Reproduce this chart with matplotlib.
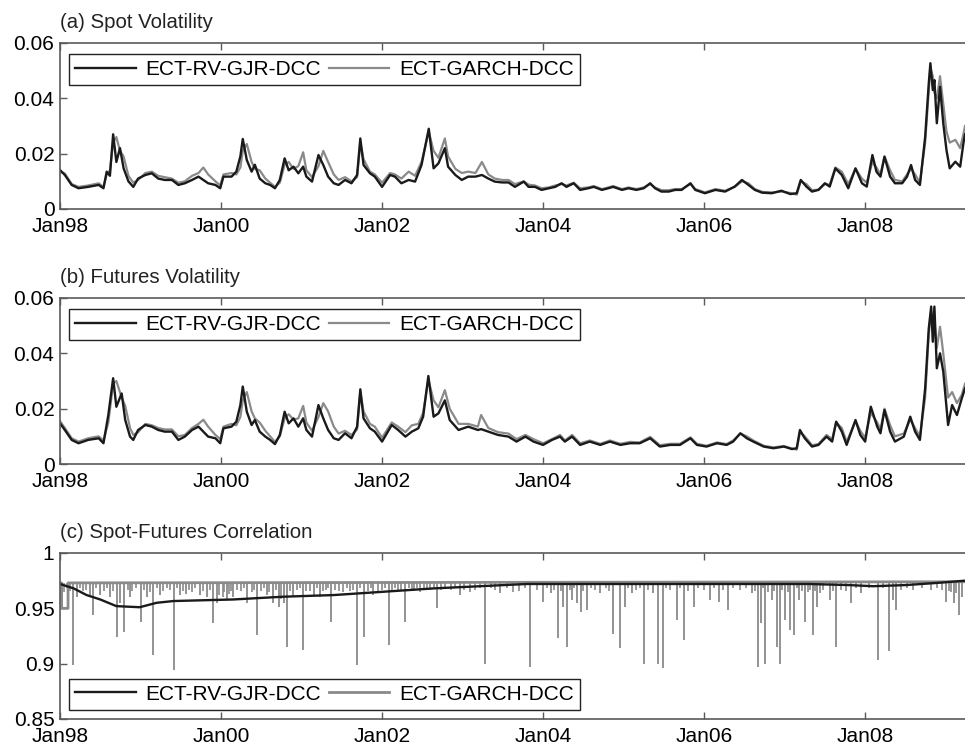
import numpy as np
import matplotlib
matplotlib.use("Agg")
import matplotlib.pyplot as plt

plt.rcParams['font.family'] = ['Liberation Sans', 'DejaVu Sans']

# ---------------- data ----------------
xticks = [1998, 2000, 2002, 2004, 2006, 2008]
xticklabels = ['Jan98', 'Jan00', 'Jan02', 'Jan04', 'Jan06', 'Jan08']
series_names = ['ECT-RV-GJR-DCC', 'ECT-GARCH-DCC']
titles = ['(a) Spot Volatility', '(b) Futures Volatility', '(c) Spot-Futures Correlation']

# (a) spot volatility, values in units of 0.001
spot_rv_t = [1998.00, 1998.06, 1998.145, 1998.23, 1998.35, 1998.48, 1998.54, 1998.58, 1998.62, 1998.66,
             1998.70, 1998.745, 1998.79, 1998.85, 1998.91, 1998.97, 1999.06, 1999.14, 1999.22, 1999.30,
             1999.39, 1999.47, 1999.55, 1999.64, 1999.72, 1999.78, 1999.84, 1999.93, 1999.99, 2000.03,
             2000.13, 2000.19, 2000.24, 2000.27, 2000.32, 2000.38, 2000.42, 2000.48, 2000.55, 2000.61,
             2000.67, 2000.73, 2000.79, 2000.84, 2000.90, 2000.96, 2001.02, 2001.06, 2001.13, 2001.21,
             2001.27, 2001.33, 2001.40, 2001.46, 2001.54, 2001.62, 2001.69, 2001.73, 2001.77, 2001.85,
             2001.91, 2002.00, 2002.10, 2002.16, 2002.24, 2002.33, 2002.41, 2002.49, 2002.58, 2002.64,
             2002.70, 2002.78, 2002.82, 2002.91, 2002.99, 2003.07, 2003.16, 2003.24, 2003.32, 2003.40,
             2003.49, 2003.57, 2003.65, 2003.76, 2003.82, 2003.90, 2003.98, 2004.07, 2004.15, 2004.23,
             2004.29, 2004.38, 2004.46, 2004.56, 2004.63, 2004.73, 2004.81, 2004.87, 2004.98, 2005.06,
             2005.16, 2005.25, 2005.33, 2005.39, 2005.47, 2005.56, 2005.64, 2005.72, 2005.83, 2005.89,
             2006.01, 2006.14, 2006.26, 2006.38, 2006.47, 2006.55, 2006.63, 2006.72, 2006.84, 2006.96,
             2007.07, 2007.15, 2007.20, 2007.27, 2007.34, 2007.42, 2007.50, 2007.56, 2007.63, 2007.71,
             2007.79, 2007.88, 2007.96, 2008.02, 2008.09, 2008.14, 2008.19, 2008.24, 2008.31, 2008.37,
             2008.46, 2008.52, 2008.57, 2008.62, 2008.68, 2008.745, 2008.79, 2008.81, 2008.84, 2008.86,
             2008.89, 2008.93, 2008.97, 2009.01, 2009.05, 2009.12, 2009.18, 2009.22, 2009.24]
spot_rv = [14.1, 12.3, 8.7, 7.5, 8.0, 8.7, 7.5, 13.5, 12.0, 27.0,
           17.0, 22.0, 14.7, 10.0, 8.0, 11.0, 12.3, 12.9, 11.0, 10.5,
           10.5, 8.7, 9.3, 10.5, 11.7, 10.5, 9.3, 8.7, 7.5, 11.7,
           11.7, 13.5, 19.0, 25.3, 17.7, 13.5, 16.0, 11.0, 9.3, 8.7,
           7.5, 10.5, 18.3, 14.0, 15.3, 12.9, 15.3, 11.7, 9.9, 19.5,
           15.9, 11.7, 9.3, 8.7, 10.5, 9.3, 12.3, 25.5, 15.9, 12.9,
           11.7, 8.0, 12.3, 11.7, 9.3, 10.5, 9.9, 15.9, 29.0, 14.7,
           16.5, 22.0, 15.3, 12.3, 10.5, 11.7, 11.7, 12.3, 11.0, 9.9,
           9.6, 9.6, 8.0, 9.9, 8.0, 8.0, 6.9, 7.5, 8.0, 9.3,
           8.0, 9.3, 6.9, 7.5, 8.0, 6.9, 7.5, 8.0, 6.9, 7.5,
           6.9, 7.5, 9.3, 7.5, 6.3, 6.3, 6.9, 6.9, 9.3, 6.9,
           5.7, 6.9, 6.3, 8.1, 10.5, 8.7, 6.9, 5.9, 5.7, 6.6,
           5.4, 5.7, 10.5, 8.1, 6.3, 6.9, 9.3, 8.1, 14.7, 12.3,
           7.5, 14.7, 9.3, 8.1, 19.5, 13.5, 11.7, 18.9, 11.7, 9.3,
           9.3, 11.7, 15.9, 10.5, 8.7, 26.0, 45.4, 52.7, 43.0, 46.6,
           31.0, 44.2, 31.0, 21.3, 14.7, 17.1, 15.3, 23.7, 27.0]
spot_garch = [13.5, 12.8, 9.0, 8.0, 8.5, 9.3, 8.0, 12.5, 14.0, 24.0,
              26.0, 21.0, 19.0, 12.0, 9.5, 10.5, 13.0, 13.5, 12.0, 11.5,
              11.0, 9.5, 10.0, 12.0, 13.0, 15.0, 12.5, 10.0, 8.5, 12.5,
              13.0, 12.5, 15.0, 21.0, 23.5, 17.0, 14.5, 14.0, 11.0, 9.5,
              8.0, 9.5, 16.0, 17.0, 14.5, 15.5, 20.5, 14.0, 11.5, 15.5,
              21.0, 17.0, 12.5, 10.5, 11.5, 10.0, 11.5, 24.0, 18.0, 13.5,
              12.5, 9.5, 13.0, 12.5, 11.0, 13.5, 12.0, 17.0, 28.0, 21.0,
              18.5, 25.5, 19.0, 14.5, 13.0, 13.5, 13.0, 17.0, 12.5, 11.0,
              10.5, 10.5, 9.0, 10.0, 8.8, 8.5, 7.5, 7.8, 8.5, 9.0,
              8.5, 9.5, 7.5, 7.8, 8.3, 7.2, 7.8, 8.3, 7.2, 7.8,
              7.2, 7.8, 9.0, 7.8, 6.8, 6.8, 7.2, 7.2, 9.0, 7.2,
              6.0, 7.2, 6.6, 8.0, 10.0, 9.3, 7.2, 6.2, 6.0, 6.3,
              5.8, 5.2, 10.0, 9.0, 6.8, 7.0, 9.0, 8.8, 15.0, 13.5,
              9.0, 14.5, 11.0, 9.5, 17.0, 15.0, 12.5, 19.0, 14.0, 10.5,
              10.0, 12.5, 14.5, 12.5, 9.5, 24.0, 43.0, 51.0, 48.0, 42.0,
              40.0, 48.0, 38.0, 28.0, 24.0, 25.0, 22.0, 27.0, 30.0]

# (b) futures volatility, values in units of 0.001
fut_t = [1998.00, 1998.06, 1998.145, 1998.23, 1998.35, 1998.48, 1998.54, 1998.60, 1998.66, 1998.70,
         1998.766, 1998.81, 1998.87, 1998.91, 1998.97, 1999.06, 1999.14, 1999.22, 1999.30, 1999.39,
         1999.47, 1999.55, 1999.64, 1999.72, 1999.78, 1999.84, 1999.93, 1999.99, 2000.03, 2000.13,
         2000.19, 2000.24, 2000.27, 2000.32, 2000.38, 2000.42, 2000.48, 2000.55, 2000.61, 2000.67,
         2000.73, 2000.79, 2000.84, 2000.90, 2000.96, 2001.02, 2001.06, 2001.13, 2001.21, 2001.27,
         2001.33, 2001.40, 2001.46, 2001.54, 2001.62, 2001.69, 2001.73, 2001.77, 2001.85, 2001.91,
         2002.00, 2002.12, 2002.20, 2002.29, 2002.37, 2002.45, 2002.51, 2002.575, 2002.64, 2002.70,
         2002.78, 2002.84, 2002.95, 2003.07, 2003.19, 2003.23, 2003.32, 2003.44, 2003.57, 2003.67,
         2003.78, 2003.88, 2004.00, 2004.11, 2004.21, 2004.27, 2004.36, 2004.46, 2004.58, 2004.71,
         2004.83, 2004.96, 2005.08, 2005.20, 2005.33, 2005.45, 2005.58, 2005.70, 2005.83, 2005.91,
         2006.03, 2006.16, 2006.28, 2006.36, 2006.45, 2006.53, 2006.61, 2006.74, 2006.86, 2006.99,
         2007.09, 2007.15, 2007.19, 2007.25, 2007.34, 2007.42, 2007.52, 2007.59, 2007.64, 2007.71,
         2007.77, 2007.88, 2007.94, 2008.00, 2008.07, 2008.15, 2008.19, 2008.24, 2008.31, 2008.37,
         2008.48, 2008.56, 2008.62, 2008.68, 2008.745, 2008.79, 2008.82, 2008.84, 2008.86, 2008.89,
         2008.93, 2008.97, 2009.03, 2009.08, 2009.14, 2009.20, 2009.24]
fut_rv = [14.7, 12.3, 8.7, 7.5, 8.7, 9.3, 7.5, 17.7, 31.0, 20.7,
          25.5, 15.9, 9.9, 8.7, 12.3, 14.1, 13.5, 12.3, 11.7, 11.7,
          8.7, 9.9, 12.3, 13.5, 11.7, 9.9, 9.3, 7.5, 12.9, 13.5,
          15.3, 21.3, 28.0, 18.9, 14.1, 15.9, 11.7, 9.9, 8.7, 7.2,
          10.5, 18.9, 14.7, 16.5, 13.5, 16.5, 12.3, 9.9, 21.3, 16.5,
          12.3, 9.3, 8.7, 11.1, 9.3, 13.5, 27.0, 16.5, 12.9, 11.7,
          8.1, 14.1, 12.3, 9.9, 11.7, 12.9, 17.1, 31.8, 17.1, 18.3,
          23.0, 15.9, 12.3, 13.5, 12.3, 12.6, 11.7, 10.5, 9.9, 8.1,
          9.9, 8.1, 6.9, 8.7, 9.9, 8.1, 9.9, 6.9, 8.1, 6.9,
          8.1, 6.9, 7.5, 7.5, 9.3, 6.3, 6.9, 6.9, 9.3, 6.9,
          6.3, 7.5, 6.9, 8.1, 11.1, 9.3, 8.1, 6.3, 5.7, 6.3,
          5.4, 5.7, 12.3, 9.3, 6.3, 6.9, 9.9, 8.1, 15.3, 11.7,
          6.9, 15.9, 10.5, 8.1, 20.7, 13.5, 11.1, 19.5, 11.7, 8.1,
          9.9, 17.1, 11.7, 8.7, 27.3, 49.0, 56.9, 44.2, 56.9, 34.6,
          40.0, 33.4, 14.1, 21.3, 17.7, 23.7, 27.3]
fut_garch = [15.5, 13.0, 9.3, 8.1, 9.3, 10.0, 8.5, 15.0, 29.0, 30.0,
             24.0, 21.0, 13.0, 10.5, 11.5, 14.5, 14.0, 13.0, 12.5, 12.5,
             10.0, 10.5, 13.0, 14.5, 16.0, 13.5, 10.5, 9.0, 13.5, 14.5,
             14.0, 17.0, 23.0, 26.0, 19.0, 16.5, 15.0, 12.0, 10.0, 8.0,
             10.0, 16.5, 18.0, 16.0, 16.5, 21.0, 15.0, 12.0, 17.0, 22.0,
             19.0, 13.5, 11.0, 12.0, 10.5, 12.5, 26.0, 19.0, 14.5, 13.5,
             9.5, 15.0, 13.5, 11.5, 14.0, 14.5, 18.5, 30.5, 23.0, 20.5,
             26.7, 20.0, 14.5, 14.5, 13.5, 17.7, 13.0, 11.5, 11.0, 9.0,
             10.5, 9.0, 7.5, 9.0, 10.5, 8.5, 10.5, 7.5, 8.5, 7.3,
             8.5, 7.3, 8.0, 7.8, 9.8, 6.8, 7.3, 7.3, 9.6, 7.3,
             6.6, 7.8, 7.2, 8.5, 11.0, 10.0, 8.5, 6.6, 6.0, 6.5,
             5.6, 5.2, 11.5, 10.0, 6.8, 7.2, 10.5, 9.0, 15.0, 13.0,
             8.0, 15.5, 12.0, 9.5, 18.5, 15.0, 12.5, 20.0, 14.0, 10.0,
             11.0, 16.0, 13.0, 10.0, 24.0, 47.0, 55.0, 50.0, 52.0, 42.0,
             49.6, 40.0, 24.0, 26.0, 22.0, 25.0, 29.0]

# (c) correlation
corr_rv_t = [1998.00, 1998.17, 1998.33, 1998.50, 1998.70, 1998.99, 1999.20, 1999.41, 2000.15, 2000.77,
             2001.40, 2002.02, 2002.64, 2003.22, 2003.80, 2004.50, 2005.50, 2006.50, 2007.30, 2007.80,
             2008.10, 2008.50, 2008.90, 2009.24]
corr_rv = [0.972, 0.968, 0.962, 0.958, 0.952, 0.951, 0.955, 0.9566, 0.958, 0.9605,
           0.962, 0.965, 0.968, 0.970, 0.972, 0.972, 0.972, 0.972, 0.972, 0.971,
           0.970, 0.971, 0.973, 0.975]
corr_garch_base_t = [1998.00, 1998.02, 1998.02, 1998.10, 1998.10, 2009.24]
corr_garch_base = [0.973, 0.973, 0.950, 0.950, 0.973, 0.974]
# deep downward spikes of the GARCH correlation
spike_t = [1998.16, 1998.21, 1998.37, 1998.41, 1998.50, 1998.62, 1998.71, 1998.75,
           1998.80, 1998.87, 1999.01, 1999.08, 1999.16, 1999.24, 1999.41, 1999.49,
           1999.57, 1999.74, 1999.82, 1999.90, 1999.95, 2000.07,
           2000.15, 2000.32, 2000.45, 2000.57, 2000.65, 2000.72, 2000.78,
           2000.82, 2000.90, 2001.02, 2001.15, 2001.23, 2001.37,
           2001.69, 2001.77, 2001.89, 2002.08, 2002.28,
           2002.68, 2002.97, 2003.28, 2003.47,
           2003.84, 2004.00, 2004.10, 2004.18, 2004.25, 2004.30, 2004.36, 2004.42, 2004.47, 2004.55,
           2004.71, 2004.87, 2004.95, 2005.02, 2005.10, 2005.25, 2005.37, 2005.43, 2005.49, 2005.66,
           2005.75, 2005.87, 2006.07, 2006.18, 2006.30, 2006.59, 2006.67, 2006.71, 2006.76, 2006.84,
           2006.90, 2006.94, 2007.01, 2007.07, 2007.12, 2007.18, 2007.25, 2007.35, 2007.40, 2007.56,
           2007.64, 2007.83, 2007.95, 2008.16, 2008.29, 2008.35, 2008.38, 2009.01,
           2009.10, 2009.16, 2009.20]
spike_v = [0.899, 0.960, 0.962, 0.944, 0.962, 0.960, 0.924, 0.955,
           0.929, 0.960, 0.938, 0.960, 0.908, 0.962, 0.894, 0.962,
           0.963, 0.962, 0.960, 0.937, 0.955, 0.958,
           0.960, 0.955, 0.926, 0.962, 0.955, 0.9515, 0.955,
           0.915, 0.960, 0.912, 0.962, 0.960, 0.938,
           0.899, 0.924, 0.962, 0.917, 0.938,
           0.950, 0.962, 0.900, 0.9636,
           0.897, 0.956, 0.964, 0.923, 0.9515, 0.915, 0.9575, 0.9545, 0.947, 0.9485,
           0.9636, 0.927, 0.914, 0.9515, 0.9636, 0.8997, 0.9636, 0.900, 0.896, 0.9395,
           0.921, 0.9515, 0.9575, 0.956, 0.9485, 0.9636, 0.897, 0.9364, 0.900, 0.9575,
           0.915, 0.900, 0.9395, 0.930, 0.926, 0.9575, 0.938, 0.926, 0.9515, 0.9575,
           0.915, 0.9545, 0.9636, 0.903, 0.911, 0.9575, 0.9485, 0.956,
           0.9545, 0.944, 0.960]
# short downward ticks that thicken the GARCH band near the top
small_t = [1998.05, 1998.09, 1998.13, 1998.25, 1998.28, 1998.32, 1998.45, 1998.55, 1998.58, 1998.66,
           1998.84, 1998.90, 1998.95, 1999.04, 1999.12, 1999.20, 1999.28, 1999.33, 1999.37, 1999.45,
           1999.53, 1999.60, 1999.64, 1999.68, 1999.78, 1999.86, 1999.98, 2000.02, 2000.04, 2000.10,
           2000.12, 2000.20, 2000.25, 2000.28, 2000.38, 2000.41, 2000.50, 2000.53, 2000.60, 2000.68,
           2000.75, 2000.86, 2000.94, 2000.98, 2001.06, 2001.10, 2001.19, 2001.27, 2001.30, 2001.33,
           2001.42, 2001.46, 2001.52, 2001.56, 2001.60, 2001.64, 2001.73, 2001.82, 2001.86, 2001.95,
           2002.00, 2002.04, 2002.12, 2002.16, 2002.20, 2002.24, 2002.33, 2002.37, 2002.40, 2002.44,
           2002.47, 2002.52, 2002.56, 2002.60, 2002.64, 2002.73, 2002.78, 2002.85, 2002.90, 2003.02,
           2003.09, 2003.15, 2003.22, 2003.35, 2003.40, 2003.55, 2003.63, 2003.70, 2003.77, 2003.92,
           2004.05, 2004.14, 2004.22, 2004.33, 2004.39, 2004.50, 2004.60, 2004.65, 2004.78, 2004.82,
           2005.06, 2005.15, 2005.20, 2005.30, 2005.53, 2005.58, 2005.70, 2005.80, 2005.93, 2006.00,
           2006.12, 2006.24, 2006.36, 2006.45, 2006.52, 2006.63, 2006.73, 2006.79, 2006.87, 2006.97,
           2007.04, 2007.15, 2007.21, 2007.29, 2007.32, 2007.38, 2007.44, 2007.48, 2007.60, 2007.70,
           2007.76, 2007.89, 2008.05, 2008.22, 2008.44, 2008.52, 2008.60, 2008.70, 2008.82, 2008.89,
           2008.95, 2009.04, 2009.07, 2009.13]
small_v = [0.965, 0.968, 0.966, 0.968, 0.966, 0.967, 0.968, 0.966, 0.968, 0.966,
           0.967, 0.966, 0.968, 0.967, 0.965, 0.968, 0.966, 0.968, 0.967, 0.968,
           0.966, 0.967, 0.965, 0.968, 0.966, 0.967, 0.962, 0.960, 0.965, 0.963,
           0.966, 0.967, 0.966, 0.968, 0.965, 0.967, 0.966, 0.968, 0.965, 0.967,
           0.958, 0.966, 0.967, 0.968, 0.966, 0.966, 0.968, 0.966, 0.967, 0.968,
           0.967, 0.966, 0.965, 0.968, 0.966, 0.967, 0.968, 0.966, 0.968, 0.966,
           0.967, 0.968, 0.966, 0.968, 0.967, 0.966, 0.968, 0.967, 0.967, 0.968,
           0.965, 0.968, 0.967, 0.967, 0.968, 0.967, 0.968, 0.967, 0.968, 0.967,
           0.965, 0.967, 0.968, 0.968, 0.967, 0.968, 0.965, 0.966, 0.968, 0.967,
           0.968, 0.967, 0.966, 0.967, 0.968, 0.966, 0.968, 0.967, 0.968, 0.966,
           0.968, 0.967, 0.968, 0.967, 0.968, 0.967, 0.968, 0.966, 0.968, 0.967,
           0.968, 0.967, 0.968, 0.967, 0.968, 0.966, 0.968, 0.965, 0.966, 0.967,
           0.965, 0.968, 0.966, 0.965, 0.967, 0.966, 0.964, 0.967, 0.966, 0.967,
           0.966, 0.968, 0.968, 0.968, 0.967, 0.968, 0.967, 0.968, 0.967, 0.968,
           0.967, 0.966, 0.965, 0.964]
spike_top = 0.973

# ---------------- figure ----------------
fig = plt.figure(figsize=(9.65, 7.46), dpi=100)
W, H = 965.0, 746.0
left_px = 60
panels_px = [(43, 209), (298, 464), (553, 719)]
FS = 15.0
black = '#1a1a1a'
gray = '#8a8a8a'
spine_c = '#5a5a5a'

axes = []
for (top, bot) in panels_px:
    ax = fig.add_axes([left_px / W, 1 - bot / H, (W - left_px) / W, (bot - top) / H])
    axes.append(ax)

xmin, xmax = 1998.0, 2009.24

def style(ax, yticks, ylabels, ylim):
    ax.set_xlim(xmin, xmax)
    ax.set_ylim(*ylim)
    ax.set_xticks(xticks)
    ax.set_xticklabels(xticklabels)
    ax.set_yticks(yticks)
    ax.set_yticklabels(ylabels)
    ax.tick_params(axis='both', direction='in', length=5, width=1.0, color=spine_c,
                   labelsize=FS, top=True, right=False, pad=4)
    ax.tick_params(axis='x', pad=5.5)
    for s in ['left', 'top', 'bottom']:
        ax.spines[s].set_color(spine_c)
        ax.spines[s].set_linewidth(1.2)
    ax.spines['right'].set_visible(False)

def add_legend(ax, handles, loc, anchor):
    leg = ax.legend(handles, series_names, loc=loc, bbox_to_anchor=anchor, ncol=2,
                    frameon=True, fancybox=False, framealpha=1, edgecolor='#222222',
                    fontsize=FS, handlelength=2.9, handletextpad=0.45, columnspacing=0.4,
                    borderpad=0.3, borderaxespad=0)
    leg.get_frame().set_linewidth(1.0)
    return leg

vol_ticks = [0, 0.02, 0.04, 0.06]
vol_labels = ['0', '0.02', '0.04', '0.06']

# (a)
ax = axes[0]
l2, = ax.plot(spot_rv_t, np.array(spot_garch) / 1000.0, color=gray, lw=1.6)
l1, = ax.plot(spot_rv_t, np.array(spot_rv) / 1000.0, color=black, lw=1.7)
style(ax, vol_ticks, vol_labels, (0, 0.06))
add_legend(ax, [l1, l2], 'upper left', (0.0099, 0.934))

# (b)
ax = axes[1]
l2, = ax.plot(fut_t, np.array(fut_garch) / 1000.0, color=gray, lw=1.6)
l1, = ax.plot(fut_t, np.array(fut_rv) / 1000.0, color=black, lw=1.7)
style(ax, vol_ticks, vol_labels, (0, 0.06))
add_legend(ax, [l1, l2], 'upper left', (0.0099, 0.934))

# (c)
ax = axes[2]
ax.vlines(small_t, small_v, spike_top, color=gray, lw=1.2)
ax.vlines(spike_t, spike_v, spike_top, color=gray, lw=1.3)
l2, = ax.plot(corr_garch_base_t, corr_garch_base, color=gray, lw=2.0)
l1, = ax.plot(corr_rv_t, corr_rv, color=black, lw=1.7)
style(ax, [0.85, 0.9, 0.95, 1.0], ['0.85', '0.9', '0.95', '1'], (0.85, 1.0))
add_legend(ax, [l1, l2], 'lower left', (0.0099, 0.054))

for ax, t in zip(axes, titles):
    ax.text(0.0, 1.066, t, transform=ax.transAxes, ha='left', va='bottom',
            fontsize=FS - 0.3, color='#222222')

fig.savefig('out.png', dpi=100)
